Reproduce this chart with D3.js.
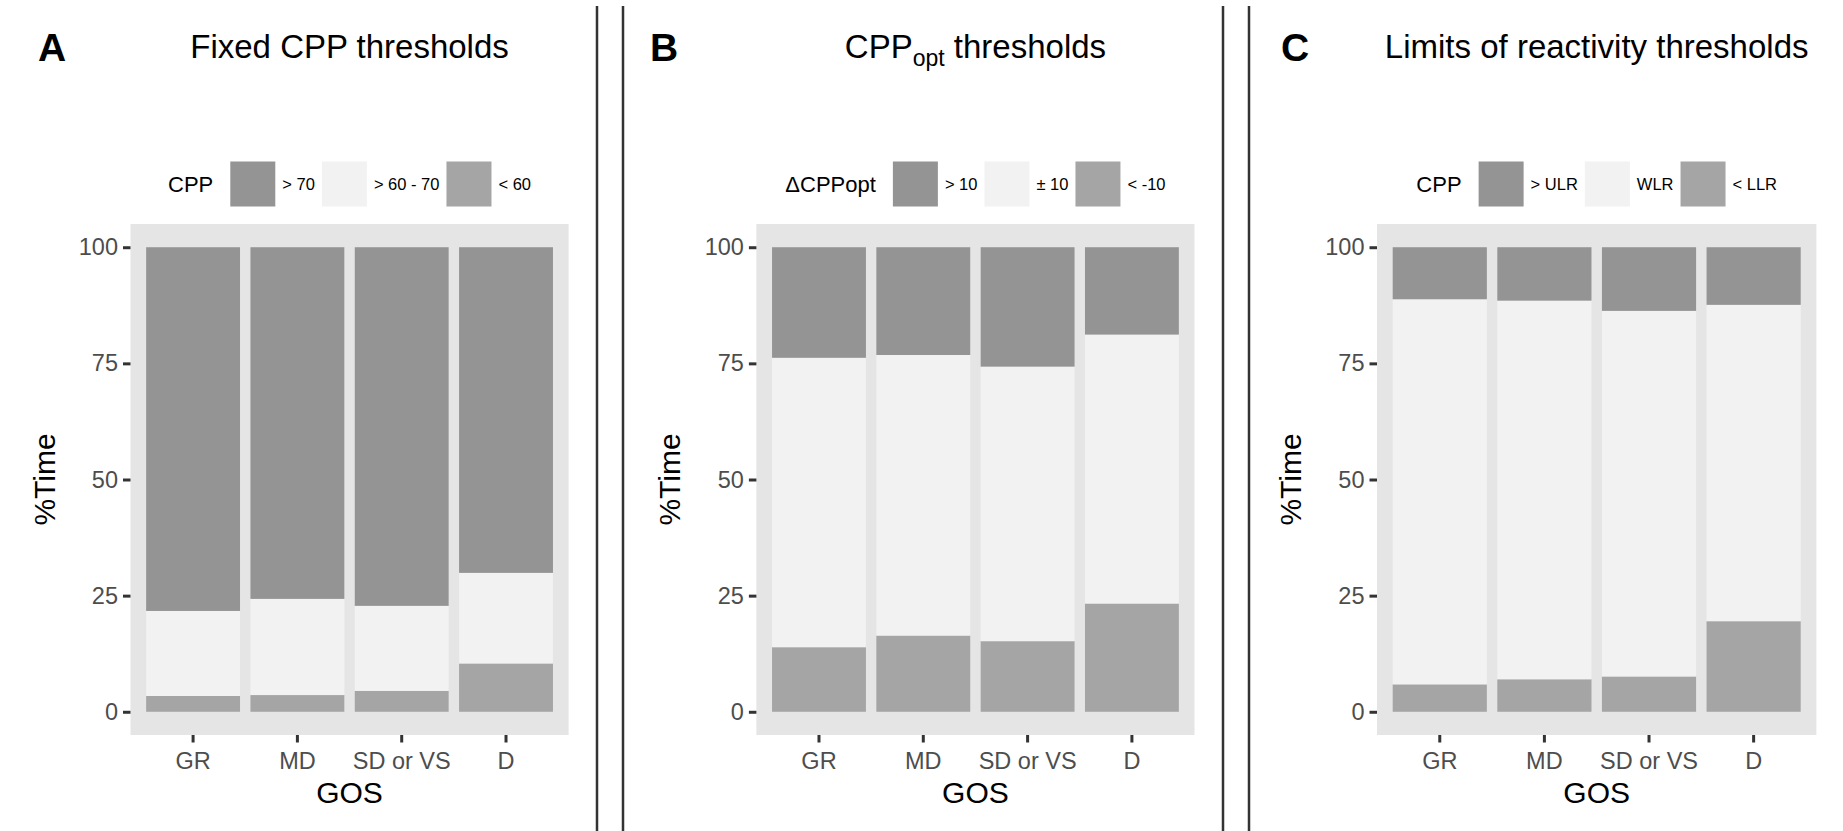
<!DOCTYPE html>
<html>
<head>
<meta charset="utf-8">
<script src="https://cdn.jsdelivr.net/npm/d3@7"></script>
<style>
  html, body { margin: 0; padding: 0; background: #fff; }
  svg { display: block; font-family: "Liberation Sans", Arial, Helvetica, sans-serif; }
</style>
</head>
<body>
<svg id="chart" width="1843" height="831"></svg>
<script>
// ---------- data ----------
const categories = ["GR", "MD", "SD or VS", "D"];
const yTicks = [0, 25, 50, 75, 100];

// Panel A: fixed CPP thresholds (% time)
const fixedHigh = [78.3, 75.7, 77.2, 70.1];   // > 70
const fixedMid  = [18.3, 20.7, 18.3, 19.5];   // > 60 - 70
const fixedLow  = [3.4, 3.6, 4.5, 10.4];      // < 60

// Panel B: CPPopt thresholds
const optHigh = [23.8, 23.2, 25.7, 18.8];     // > 10
const optMid  = [62.3, 60.4, 59.1, 57.9];     // ± 10
const optLow  = [13.9, 16.4, 15.2, 23.3];     // < -10

// Panel C: limits of reactivity thresholds
const lrHigh = [11.2, 11.5, 13.7, 12.4];      // > ULR
const lrMid  = [82.9, 81.5, 78.7, 68.1];      // WLR
const lrLow  = [5.9, 7.0, 7.6, 19.5];         // < LLR

const panelLetters = ["A", "B", "C"];
const panelTitles = ["Fixed CPP thresholds", "CPP|opt| thresholds", "Limits of reactivity thresholds"];
const legendTitles = ["CPP", "\u0394CPPopt", "CPP"];
const legendLabels = [
  ["> 70", "> 60 - 70", "< 60"],
  ["> 10", "\u00b1 10", "< -10"],
  ["> ULR", "WLR", "< LLR"]
];
const xTitle = "GOS";
const yTitle = "%Time";

// ---------- layout ----------
const W = 1843, H = 831;
const panelX = [[130.5, 568.6], [756.4, 1194.5], [1377, 1816.4]];
const panelTop = 224, panelBottom = 735;
const letterX = [38, 650, 1281];
const dividers = [597, 623, 1223, 1249];
const colors = { high: "#949494", mid: "#f2f2f2", low: "#a5a5a5" };
const panelBg = "#e5e5e5";

const svg = d3.select("#chart");
svg.append("rect").attr("width", W).attr("height", H).attr("fill", "#fff");

const panels = [
  { high: fixedHigh, mid: fixedMid, low: fixedLow },
  { high: optHigh, mid: optMid, low: optLow },
  { high: lrHigh, mid: lrMid, low: lrLow }
];

const y = d3.scaleLinear().domain([-5, 105]).range([panelBottom, panelTop]);

panels.forEach((p, pi) => {
  const [x0, x1] = panelX[pi];
  const cx = (x0 + x1) / 2;
  const g = svg.append("g");

  // panel background
  g.append("rect").attr("x", x0).attr("y", panelTop)
    .attr("width", x1 - x0).attr("height", panelBottom - panelTop)
    .attr("fill", panelBg);

  const x = d3.scaleBand().domain(categories).range([x0, x1])
    .paddingInner(0.1).paddingOuter(0.15);

  const rows = categories.map((c, i) => ({ cat: c, low: p.low[i], mid: p.mid[i], high: p.high[i] }));
  const stack = d3.stack().keys(["low", "mid", "high"])(rows);

  stack.forEach(layer => {
    g.append("g").selectAll("rect").data(layer).join("rect")
      .attr("x", d => x(d.data.cat))
      .attr("width", x.bandwidth())
      .attr("y", d => y(d[1]))
      .attr("height", d => y(d[0]) - y(d[1]))
      .attr("fill", colors[layer.key]);
  });

  // y axis
  const yAxis = d3.axisLeft(y).tickValues(yTicks).tickSize(7.5).tickPadding(5);
  const ya = g.append("g").attr("transform", `translate(${x0},0)`).call(yAxis);
  ya.select(".domain").remove();
  ya.selectAll("line").attr("stroke", "#333").attr("stroke-width", 3);
  ya.selectAll("text").attr("fill", "#4d4d4d").attr("font-size", 23.5);

  // x axis
  const xAxis = d3.axisBottom(x).tickSize(7.5).tickPadding(10);
  const xa = g.append("g").attr("transform", `translate(0,${panelBottom})`).call(xAxis);
  xa.select(".domain").remove();
  xa.selectAll("line").attr("stroke", "#333").attr("stroke-width", 3);
  xa.selectAll("text").attr("fill", "#4d4d4d").attr("font-size", 23.5);

  // axis titles
  g.append("text").attr("x", cx).attr("y", 803).attr("text-anchor", "middle")
    .attr("font-size", 30).attr("fill", "#000").text(xTitle);
  g.append("text").attr("transform", `translate(${x0 - 76},${(panelTop + panelBottom) / 2}) rotate(-90)`)
    .attr("text-anchor", "middle").attr("font-size", 30).attr("fill", "#000").text(yTitle);

  // panel letter
  svg.append("text").attr("x", letterX[pi]).attr("y", 61)
    .attr("font-size", 39).attr("font-weight", "bold").attr("fill", "#000").text(panelLetters[pi]);

  // title (with optional subscript between | |)
  const parts = panelTitles[pi].split("|");
  const t = svg.append("text").attr("x", cx).attr("y", 58).attr("text-anchor", "middle")
    .attr("font-size", 33).attr("fill", "#000");
  parts.forEach((s, k) => {
    if (k === 1) {
      t.append("tspan").attr("font-size", 23).attr("dy", 8).text(s);
    } else if (k === 2) {
      t.append("tspan").attr("dy", -8).text(s);
    } else {
      t.append("tspan").text(s);
    }
  });

  // legend
  const lg = svg.append("g");
  const legY = 184, key = 45;
  const titleEl = lg.append("text").attr("y", legY).attr("dy", "0.35em")
    .attr("font-size", 22).attr("fill", "#000").text(legendTitles[pi]);
  const tw = titleEl.node().getComputedTextLength();
  const keys = ["high", "mid", "low"];
  let cur = tw + 17;
  keys.forEach((k, ki) => {
    lg.append("rect").attr("x", cur).attr("y", legY - key / 2)
      .attr("width", key).attr("height", key).attr("fill", colors[k]);
    cur += key + 7;
    const lt = lg.append("text").attr("x", cur).attr("y", legY).attr("dy", "0.35em")
      .attr("font-size", 16.5).attr("fill", "#000").text(legendLabels[pi][ki]);
    cur += lt.node().getComputedTextLength();
    if (ki < 2) cur += 7;
  });
  lg.attr("transform", `translate(${cx - cur / 2},0)`);
});

// divider lines
svg.append("g").selectAll("line").data(dividers).join("line")
  .attr("x1", d => d).attr("x2", d => d).attr("y1", 6).attr("y2", H)
  .attr("stroke", "#333").attr("stroke-width", 2.5);
</script>
</body>
</html>
